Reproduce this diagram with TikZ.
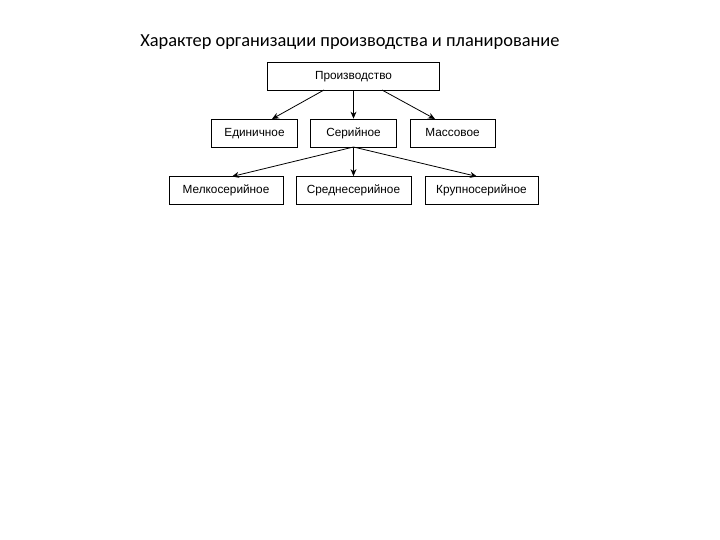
\documentclass[tikz,border=0pt]{standalone}
\usepackage{fontspec}
\setmainfont{Liberation Sans}
\newfontfamily\titlefont{Carlito}
\usetikzlibrary{arrows.meta}
\begin{document}
\begin{tikzpicture}[x=1pt,y=-1pt,
  box/.style={draw=black,line width=0.8pt,inner sep=0pt,minimum height=28pt,text height=8.5pt,text depth=2pt,font=\fontsize{11.8}{13}\selectfont},
  arr/.style={draw=black,line width=0.8pt,-{Stealth[length=7pt,width=6pt]}}]
\useasboundingbox (0,0) rectangle (720,540);
\node[font=\titlefont\fontsize{18.4}{21}\selectfont] (title) at (350,42) {Характер организации производства и планирование};
\node[box,minimum width=172pt] (prod) at (353.5,76) {Производство};
\node[box,minimum width=86pt] (ed) at (254.5,133) {Единичное};
\node[box,minimum width=86pt] (ser) at (353.5,133) {Серийное};
\node[box,minimum width=85pt] (mas) at (452.5,133) {Массовое};
\node[box,minimum width=114pt] (mel) at (226,190.5) {Мелкосерийное};
\node[box,minimum width=115pt] (sre) at (353.5,190.5) {Среднесерийное};
\node[box,minimum width=113pt] (kru) at (481.5,190.5) {Крупносерийное};
\coordinate (pl) at (324,90);
\coordinate (pr) at (382,90);
\coordinate (ed1) at (272,119);
\coordinate (mas1) at (435,119);
\coordinate (sb) at (353.5,147);
\coordinate (mel1) at (232,176.5);
\coordinate (kru1) at (477,176.5);
\draw[arr] (pl) -- (ed1);
\draw[arr] (prod.south) -- (ser.north);
\draw[arr] (pr) -- (mas1);
\draw[arr] (sb) -- (mel1);
\draw[arr] (sb) -- (sre.north);
\draw[arr] (sb) -- (kru1);
\end{tikzpicture}
\end{document}
